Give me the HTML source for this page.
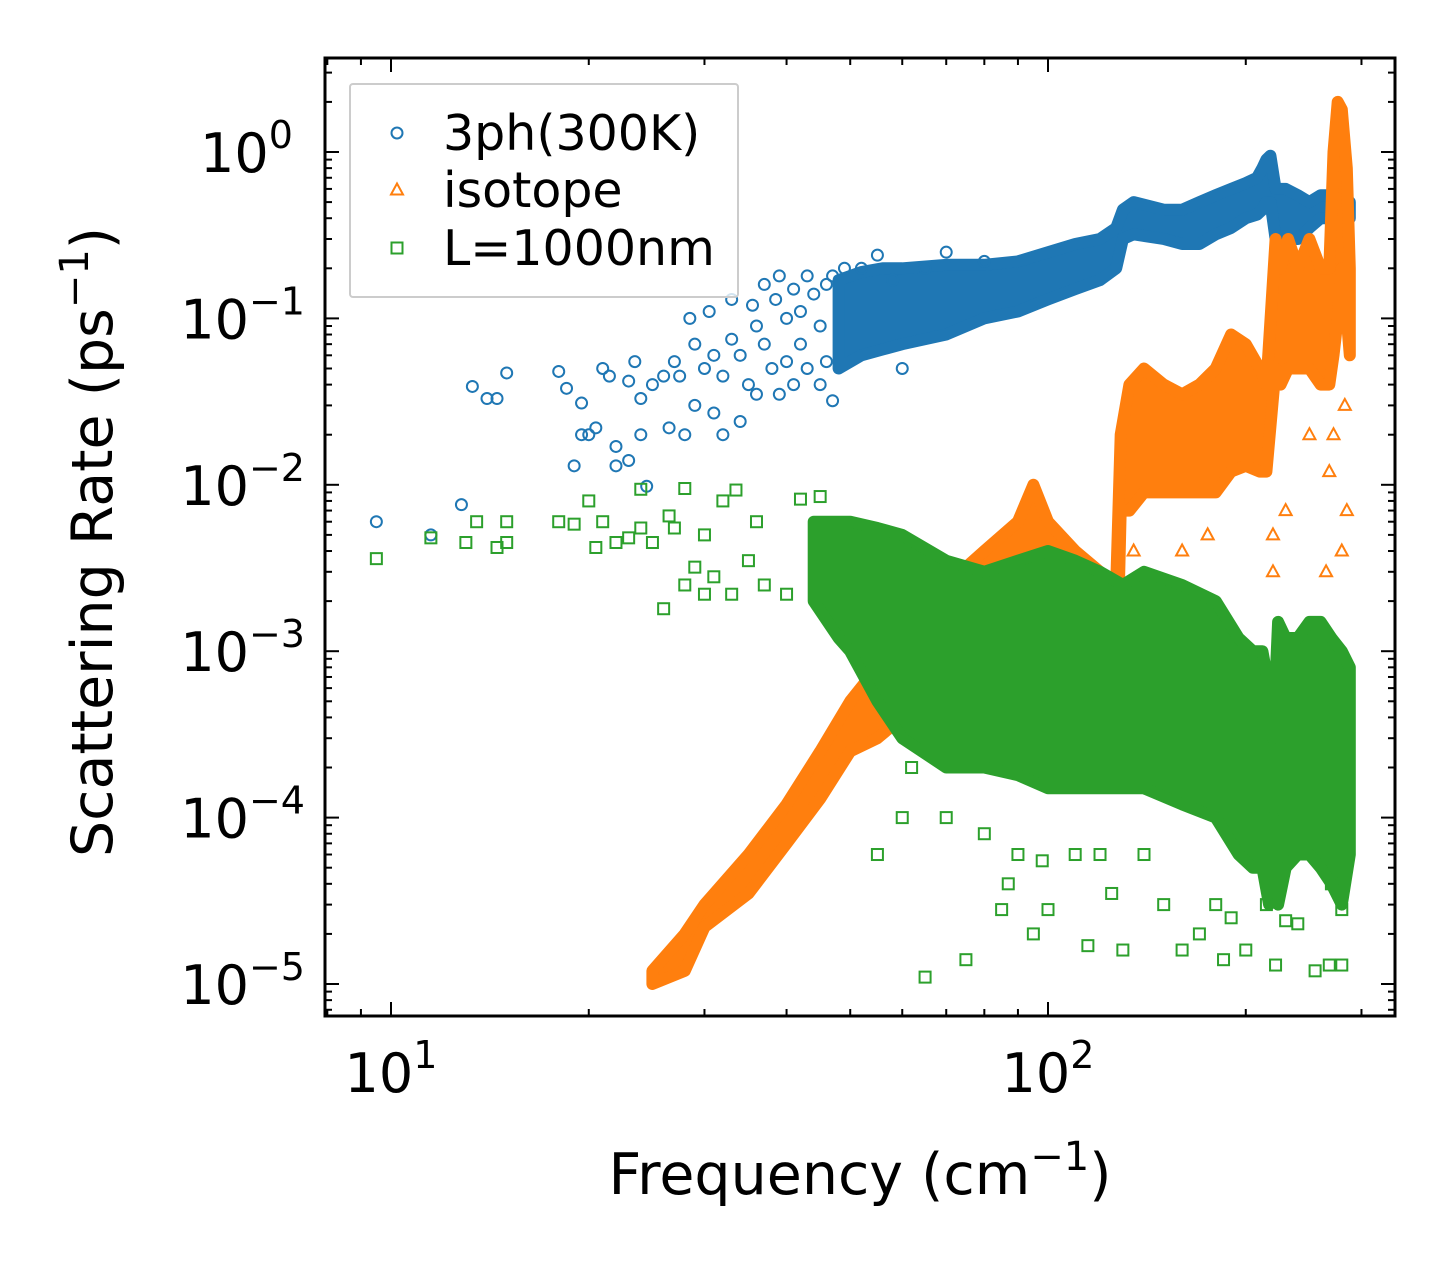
<!DOCTYPE html>
<html><head><meta charset="utf-8"><style>
html,body{margin:0;padding:0;background:#fff;}
svg{display:block;font-family:"DejaVu Sans","Liberation Sans",sans-serif;}
</style></head><body>
<svg id="chart" width="1455" height="1265" viewBox="0 0 1455 1265" xmlns="http://www.w3.org/2000/svg">
<rect width="1455" height="1265" fill="#fff"/>
<g id="series"></g>
<g id="axes"></g>
</svg>
<script>
// ---- data ----
const blueBandF  = [48,52,56,60,70,80,90,100,110,120,127,130,135,150,160,170,180,190,200,208,212,215,218,222,226,230,240,250,260,270,280,288];
const blueBandLo = [0.05,0.06,0.065,0.07,0.08,0.1,0.11,0.13,0.15,0.17,0.2,0.3,0.32,0.3,0.28,0.28,0.32,0.35,0.4,0.42,0.45,0.5,0.5,0.3,0.25,0.3,0.3,0.35,0.4,0.4,0.35,0.4];
const blueBandHi = [0.17,0.19,0.2,0.2,0.21,0.21,0.22,0.25,0.28,0.3,0.35,0.45,0.5,0.45,0.45,0.5,0.55,0.6,0.65,0.7,0.8,0.9,0.95,0.6,0.6,0.6,0.55,0.5,0.55,0.55,0.55,0.5];
const blueF = [9.5,11.5,12.8,13.3,14,14.5,15,18,18.5,19,19.5,19.5,20,20.5,21,21.5,22,22,23,23,23.5,24,24,24.5,25,26,26.5,27,27.5,28,28.5,29,29,30,30.5,31,31,32,32,33,33,34,34,35,35.5,36,36,37,37,38,38.5,39,39,40,40,41,41,42,42,43,43,44,45,45,46,46,47,47,49,52,55,58,60,65,70,80];
const blueV = [0.006,0.005,0.0076,0.039,0.033,0.033,0.047,0.048,0.038,0.013,0.031,0.02,0.02,0.022,0.05,0.045,0.017,0.013,0.042,0.014,0.055,0.033,0.02,0.0098,0.04,0.045,0.022,0.055,0.045,0.02,0.1,0.07,0.03,0.05,0.11,0.06,0.027,0.02,0.045,0.13,0.075,0.06,0.024,0.04,0.12,0.09,0.035,0.16,0.07,0.05,0.13,0.18,0.035,0.1,0.055,0.15,0.04,0.11,0.07,0.18,0.05,0.14,0.09,0.04,0.16,0.055,0.18,0.032,0.2,0.2,0.24,0.17,0.05,0.2,0.25,0.22];

const orBandF  = [25,28,30,35,40,45,50,55,60,70,80,90,95,100,110,120,127,129,133,140,150,160,170,180,190,200,210,215,222,226,232,240,250,260,268,272,276,280,285,288];
const orBandLo = [1e-5,1.2e-5,2.2e-5,3.5e-5,7e-5,1.3e-4,2.5e-4,3e-4,4e-4,5e-4,5e-4,6e-4,8e-4,8e-4,6e-4,5e-4,5e-4,0.007,0.007,0.009,0.009,0.009,0.009,0.009,0.012,0.013,0.012,0.012,0.05,0.04,0.05,0.05,0.05,0.04,0.04,0.06,0.1,0.2,0.1,0.06];
const orBandHi = [1.2e-5,2e-5,3e-5,6e-5,1.2e-4,2.5e-4,5e-4,8e-4,1.5e-3,2.5e-3,4e-3,6e-3,1e-2,6e-3,4e-3,3e-3,2.5e-3,0.02,0.04,0.05,0.04,0.035,0.04,0.05,0.08,0.07,0.05,0.04,0.3,0.2,0.3,0.2,0.3,0.2,0.2,1.0,2.0,1.8,0.8,0.2];
const orF = [135,160,175,220,220,230,250,265,280,285,268,272,283];
const orV = [0.004,0.004,0.005,0.003,0.005,0.007,0.02,0.003,0.004,0.007,0.012,0.02,0.03];

const grBandF  = [44,48,50,55,60,70,80,90,100,110,120,130,140,160,180,195,205,212,217,220,224,230,240,250,260,270,280,288];
const grBandLo = [0.002,0.0012,0.001,5e-4,3e-4,2e-4,2e-4,1.8e-4,1.5e-4,1.5e-4,1.5e-4,1.5e-4,1.5e-4,1.2e-4,1e-4,6e-5,5e-5,5e-5,3e-5,1e-4,3e-5,5e-5,6e-5,6e-5,5e-5,4e-5,3e-5,6e-5];
const grBandHi = [0.006,0.006,0.006,0.0055,0.005,0.0035,0.003,0.0035,0.004,0.0035,0.003,0.0025,0.003,0.0025,0.002,0.0012,0.001,0.001,6e-4,3e-4,0.0015,0.0012,0.0012,0.0015,0.0015,0.0012,0.001,8e-4];
const grF = [9.5,11.5,13,13.5,14.5,15,15,18,19,20,20.5,21,22,23,24,24,25,26,26.5,27,28,28,29,30,30,31,32,33,33.5,35,36,37,40,42,45,55,60,62,65,70,75,80,85,87,90,95,98,100,110,115,120,125,130,140,150,160,170,180,185,190,200,215,222,230,240,255,268,270,280,280];
const grV = [0.0036,0.0048,0.0045,0.006,0.0042,0.0045,0.006,0.006,0.0058,0.008,0.0042,0.006,0.0045,0.0048,0.0094,0.0055,0.0045,0.0018,0.0065,0.0055,0.0095,0.0025,0.0032,0.0022,0.005,0.0028,0.008,0.0022,0.0093,0.0035,0.006,0.0025,0.0022,0.0082,0.0085,6e-5,1e-4,2e-4,1.1e-5,1e-4,1.4e-5,8e-5,2.8e-5,4e-5,6e-5,2e-5,5.5e-5,2.8e-5,6e-5,1.7e-5,6e-5,3.5e-5,1.6e-5,6e-5,3e-5,1.6e-5,2e-5,3e-5,1.4e-5,2.5e-5,1.6e-5,3e-5,1.3e-5,2.4e-5,2.3e-5,1.2e-5,1.3e-5,4e-5,1.3e-5,2.8e-5];

// ---- axes ----
const L=325,R=1395,T=58,B=1016;
const X0=391, XD=657, Y0=152, YD=166.4;
const sx=f=>X0+(Math.log10(f)-1)*XD;
const sy=v=>Y0-Math.log10(v)*YD;
const NS="http://www.w3.org/2000/svg";
function mk(tag,attrs,parent){const e=document.createElementNS(NS,tag);for(const k in attrs)e.setAttribute(k,attrs[k]);parent.appendChild(e);return e;}
const S=document.getElementById('series'), A=document.getElementById('axes');
const C={b:'#1f77b4',o:'#ff7f0e',g:'#2ca02c'};

function band(F,Lo,Hi,col,name){
  let d='M'+F.map((f,i)=>sx(f).toFixed(1)+','+sy(Hi[i]).toFixed(1)).join('L');
  for(let i=F.length-1;i>=0;i--) d+='L'+sx(F[i]).toFixed(1)+','+sy(Lo[i]).toFixed(1);
  const p=mk('path',{d:d+'Z',fill:col,stroke:col,'stroke-width':12,'stroke-linejoin':'round'},S);
  
  
}
function marker(kind,x,y,col,parent){
  let e;
  if(kind==='c') e=mk('circle',{cx:x,cy:y,r:5.5,fill:'none',stroke:col,'stroke-width':2},parent);
  else if(kind==='t') e=mk('polygon',{points:`${x},${y-6.5} ${x-6},${y+4.5} ${x+6},${y+4.5}`,fill:'none',stroke:col,'stroke-width':2},parent);
  else e=mk('rect',{x:x-5.5,y:y-5.5,width:11,height:11,fill:'none',stroke:col,'stroke-width':2},parent);
  return e;
}
function pts(F,V,kind,col,name){
  F.forEach((f,i)=>{const e=marker(kind,sx(f),sy(V[i]),col,S);
    
    });
}
band(blueBandF,blueBandLo,blueBandHi,C.b,'3ph-dense-band'); pts(blueF,blueV,'c',C.b,'3ph-point');
band(orBandF,orBandLo,orBandHi,C.o,'isotope-dense-band'); pts(orF,orV,'t',C.o,'isotope-point');
band(grBandF,grBandLo,grBandHi,C.g,'boundary-dense-band'); pts(grF,grV,'s',C.g,'boundary-point');

// frame
const fr=mk('rect',{x:L,y:T,width:R-L,height:B-T,fill:'none',stroke:'#000','stroke-width':3},A);
 
// x ticks
for(let dec=0;dec<=2;dec++){for(let m=1;m<=9;m++){const f=m*Math.pow(10,dec);const x=sx(f);if(x<L||x>R)continue;
  const len=m===1?14:7;
  mk('line',{x1:x,y1:B,x2:x,y2:B-len,stroke:'#000','stroke-width':2},A);
  mk('line',{x1:x,y1:T,x2:x,y2:T+len,stroke:'#000','stroke-width':2},A);
  if(m===1){const t=mk('text',{x:x,y:1092,'font-size':54,'text-anchor':'middle'},A);
    t.innerHTML='10<tspan dy="-24" font-size="38">'+dec+'</tspan>';
     }
}}
// y ticks
for(let e=-6;e<=0;e++){for(let m=1;m<=9;m++){const v=m*Math.pow(10,e);const y=sy(v);if(y<T||y>B)continue;
  const len=m===1?14:7;
  mk('line',{x1:L,y1:y,x2:L+len,y2:y,stroke:'#000','stroke-width':2},A);
  mk('line',{x1:R,y1:y,x2:R-len,y2:y,stroke:'#000','stroke-width':2},A);
  if(m===1){const t=mk('text',{x:e<0?305:200,y:y+20,'font-size':54,'text-anchor':e<0?'end':'start'},A);
    t.innerHTML=e<0?'10<tspan dy="-24" font-size="38">\u2212'+(-e)+'</tspan>':'10<tspan dy="-24" font-size="38">0</tspan>';
     }
}}
// titles
const xt=mk('text',{x:860,y:1194,'font-size':57,'text-anchor':'middle'},A);
xt.innerHTML='Frequency (cm<tspan dy="-24" font-size="40">\u22121</tspan><tspan dy="24">)</tspan>';
 
const yt=mk('text',{x:0,y:0,'font-size':57,'text-anchor':'middle',transform:'translate(112,542) rotate(-90)'},A);
yt.innerHTML='Scattering Rate (ps<tspan dy="-24" font-size="40">\u22121</tspan><tspan dy="24">)</tspan>';
 
// legend
const lg=mk('g',{},A);
 
mk('rect',{x:350,y:84,width:388,height:213,fill:'#fff','fill-opacity':0.8,stroke:'#ccc','stroke-width':2,rx:3},lg);
[['c',C.b,'3ph(300K)',133],['t',C.o,'isotope',190],['s',C.g,'L=1000nm',248]].forEach(([k,c,txt,y])=>{
  const g=mk('g',{},lg);
   
  marker(k,397,y,c,g);
  const t=mk('text',{x:443,y:y+17,'font-size':49},g); t.textContent=txt;
});
</script>
</body></html>
